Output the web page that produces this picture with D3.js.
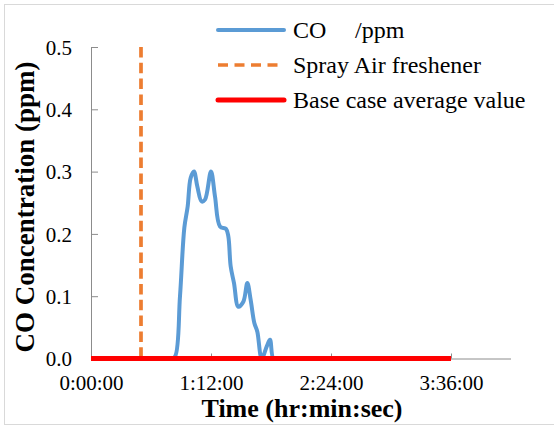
<!DOCTYPE html>
<html>
<head>
<meta charset="utf-8">
<script src="https://cdn.jsdelivr.net/npm/d3@7/dist/d3.min.js"></script>
<style>
  html, body { margin: 0; padding: 0; background: #fff; }
  svg { display: block; }
</style>
</head>
<body>
<svg id="chart" width="554" height="426"></svg>
<script>
// CO concentration over time (minutes since start)
const coTime  = [48, 50.4, 53.4, 56, 58, 59.8, 61.8, 63.8, 66.4, 68.4, 72, 74.4, 77.4, 81, 82.4, 83.8, 85.8, 88.4, 91.4, 93.8, 95.8, 98, 99.8, 102.4, 105.4, 107.4, 109.4, 112];
const coValue = [0, 0.003, 0.1, 0.21, 0.244, 0.29, 0.30, 0.276, 0.252, 0.255, 0.30, 0.26, 0.212, 0.208, 0.196, 0.148, 0.121, 0.083, 0.091, 0.121, 0.094, 0.057, 0.043, 0, 0.019, 0.03, 0, 0];

// Air freshener spray moment (vertical marker, drawn top to bottom)
const sprayTime  = [30, 30];
const sprayValue = [0.5, 0];

// Base case average value
const baseTime  = [0, 216];
const baseValue = [0, 0];

// Axis ticks
const xTickValues = [0, 72, 144, 216];
const xTickLabels = ["0:00:00", "1:12:00", "2:24:00", "3:36:00"];
const yTickValues = [0, 0.1, 0.2, 0.3, 0.4, 0.5];

const legendLabels = ["CO", "Spray Air freshener", "Base case average value"];

const FONT = "Liberation Serif";

const svg = d3.select("#chart");

// outer chart frame
svg.append("rect")
  .attr("x", 4.5).attr("y", 4.5)
  .attr("width", 580).attr("height", 420)
  .attr("fill", "none").attr("stroke", "#d9d9d9").attr("stroke-width", 1);

const x = d3.scaleLinear().domain([0, 252]).range([91, 511]);
const y = d3.scaleLinear().domain([0, 0.5]).range([358.5, 47]);

const axisColor = "#8c8c8c";

// y axis
const yAxis = svg.append("g")
  .attr("transform", "translate(91,0)")
  .call(d3.axisRight(y).tickValues(yTickValues).tickSize(7).tickFormat(d3.format(".1f")));
yAxis.attr("font-family", null).attr("font-size", null);
yAxis.select(".domain").attr("stroke", axisColor).attr("d", `M0.5,${y(0.5)}V${y(0)}`);
yAxis.selectAll(".tick line").attr("stroke", axisColor);
yAxis.selectAll(".tick text")
  .attr("x", -19).attr("text-anchor", "end").attr("dy", "0.34em")
  .style("font-family", FONT).style("font-size", "21px").attr("fill", "#000");

// x axis
const xAxis = svg.append("g")
  .attr("transform", `translate(0,${y(0)})`)
  .call(d3.axisTop(x).tickValues(xTickValues).tickSize(5).tickFormat((d, i) => xTickLabels[i]));
xAxis.attr("font-family", null).attr("font-size", null);
xAxis.select(".domain").attr("stroke", axisColor).attr("d", `M${x(0)},0.5H${x(252)}`);
xAxis.selectAll(".tick line").attr("stroke", axisColor);
xAxis.selectAll(".tick text")
  .attr("y", 31).attr("dy", 0).attr("text-anchor", "middle")
  .style("font-family", FONT).style("font-size", "21px").attr("fill", "#000");

// axis titles
svg.append("text")
  .attr("x", 302).attr("y", 417)
  .attr("text-anchor", "middle")
  .style("font-family", FONT)
  .style("font-size", "26px").style("font-weight", "bold")
  .text("Time (hr:min:sec)");

svg.append("text")
  .attr("transform", "translate(34,207) rotate(-90)")
  .attr("text-anchor", "middle")
  .style("font-family", FONT)
  .style("font-size", "27px").style("font-weight", "bold")
  .text("CO Concentration (ppm)");

// series
const line = d3.line().x(d => x(d[0])).y(d => y(d[1]));

svg.append("path")
  .datum(coTime.map((t, i) => [t, coValue[i]]))
  .attr("d", line.curve(d3.curveCatmullRom.alpha(0.5)))
  .attr("fill", "none").attr("stroke", "#5b9bd5").attr("stroke-width", 4)
  .attr("stroke-linejoin", "round").attr("stroke-linecap", "round");

svg.append("path")
  .datum(sprayTime.map((t, i) => [t, sprayValue[i]]))
  .attr("d", d3.line().x(d => x(d[0])).y(d => y(d[1])))
  .attr("fill", "none").attr("stroke", "#ed7d31").attr("stroke-width", 3.7)
  .attr("stroke-dasharray", "10.5,5.3");

svg.append("path")
  .datum(baseTime.map((t, i) => [t, baseValue[i]]))
  .attr("d", d3.line().x(d => x(d[0])).y(d => y(d[1])))
  .attr("fill", "none").attr("stroke", "#ff0000").attr("stroke-width", 5);

// legend
const legend = svg.append("g");
const legendStyles = [
  { color: "#5b9bd5", width: 4, dash: null, cap: "round" },
  { color: "#ed7d31", width: 3.7, dash: "10,6.5", cap: "butt" },
  { color: "#ff0000", width: 5, dash: null, cap: "round" }
];
const legendY = [30, 65, 100];
legendLabels.forEach((label, i) => {
  const s = legendStyles[i];
  legend.append("line")
    .attr("x1", 218).attr("x2", 284)
    .attr("y1", legendY[i]).attr("y2", legendY[i])
    .attr("stroke", s.color).attr("stroke-width", s.width)
    .attr("stroke-dasharray", s.dash).attr("stroke-linecap", s.cap);
  const t = legend.append("text")
    .attr("x", 293).attr("y", legendY[i] + 8)
    .style("font-family", FONT)
    .style("font-size", "24px");
  t.append("tspan").text(label);
  if (i === 0) t.append("tspan").attr("x", 355).text("/ppm");
});
</script>
</body>
</html>
